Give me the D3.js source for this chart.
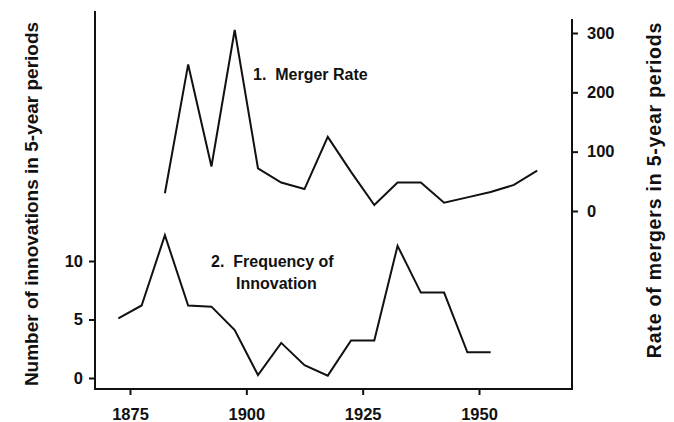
<!DOCTYPE html>
<html>
<head>
<meta charset="utf-8">
<script src="https://cdn.jsdelivr.net/npm/d3@7"></script>
<style>
  body { margin: 0; background: #fff; }
  svg text { font-family: "Liberation Sans", Arial, sans-serif; font-weight: bold; fill: #111; }
</style>
</head>
<body>
<svg id="chart" width="674" height="422"></svg>
<script>
// Data (mid-points of 5-year periods)
const mergerYears = [1882.5, 1887.5, 1892.5, 1897.5, 1902.5, 1907.5, 1912.5, 1917.5, 1922.5,
    1927.5, 1932.5, 1937.5, 1942.5, 1947.5, 1952.5, 1957.5, 1962.5];
const mergerRate = [30, 247, 75, 305, 72, 48, 37, 125, 66, 10, 48, 48, 14, 23, 32, 44, 68];

const innovationYears = [1872.5, 1877.5, 1882.5, 1887.5, 1892.5, 1897.5, 1902.5, 1907.5, 1912.5,
    1917.5, 1922.5, 1927.5, 1932.5, 1937.5, 1942.5, 1947.5, 1952.5];
const innovations = [5.1, 6.2, 12.2, 6.2, 6.1, 4.1, 0.25, 3.0, 1.1, 0.2, 3.2, 3.2, 11.3, 7.3, 7.3, 2.2, 2.2];

const yearTicks = [1875, 1900, 1925, 1950];
const innovationTicks = [0, 5, 10];
const mergerTicks = [0, 100, 200, 300];

// Layout
const frame = { left: 95, right: 572, bottom: 389, leftTop: 11, rightTop: 19 };

const svg = d3.select("#chart");

const xScale = d3.scaleLinear().domain([1875, 1950]).range([130, 479]);
const yLeft = d3.scaleLinear().domain([0, 10]).range([378, 261]);
const yRight = d3.scaleLinear().domain([0, 300]).range([211, 33]);

// Frame lines
svg.append("line")
    .attr("x1", frame.left).attr("x2", frame.left)
    .attr("y1", frame.leftTop).attr("y2", frame.bottom)
    .attr("stroke", "#111").attr("stroke-width", 2);
svg.append("line")
    .attr("x1", frame.right).attr("x2", frame.right)
    .attr("y1", frame.rightTop).attr("y2", frame.bottom)
    .attr("stroke", "#111").attr("stroke-width", 2);
svg.append("line")
    .attr("x1", frame.left - 1).attr("x2", frame.right + 1)
    .attr("y1", frame.bottom).attr("y2", frame.bottom)
    .attr("stroke", "#111").attr("stroke-width", 2);

// Axes (domain paths hidden, frame drawn above)
const xAxis = svg.append("g")
    .attr("transform", `translate(0,${frame.bottom})`)
    .call(d3.axisBottom(xScale).tickValues(yearTicks).tickFormat(d3.format("d")).tickSize(6).tickPadding(13));

const leftAxis = svg.append("g")
    .attr("transform", `translate(${frame.left},0)`)
    .call(d3.axisLeft(yLeft).tickValues(innovationTicks).tickSize(6).tickPadding(6));

const rightAxis = svg.append("g")
    .attr("transform", `translate(${frame.right},0)`)
    .call(d3.axisRight(yRight).tickValues(mergerTicks).tickSize(6).tickPadding(9));

[xAxis, leftAxis, rightAxis].forEach(g => {
    g.select(".domain").remove();
    g.selectAll(".tick line").attr("stroke", "#111").attr("stroke-width", 2);
    g.selectAll(".tick text").style("font-size", "16.5px").attr("fill", "#111");
    g.attr("font-family", null).attr("font-size", null);
});

// Series lines
const mergerLine = d3.line()
    .x((d, i) => xScale(mergerYears[i]))
    .y(d => yRight(d));
svg.append("path")
    .datum(mergerRate)
    .attr("d", mergerLine)
    .attr("fill", "none")
    .attr("stroke", "#111")
    .attr("stroke-width", 2)
    .attr("stroke-linejoin", "miter");

const innovationLine = d3.line()
    .x((d, i) => xScale(innovationYears[i]))
    .y(d => yLeft(d));
svg.append("path")
    .datum(innovations)
    .attr("d", innovationLine)
    .attr("fill", "none")
    .attr("stroke", "#111")
    .attr("stroke-width", 2)
    .attr("stroke-linejoin", "miter");

// Annotations
svg.append("text")
    .attr("x", 253).attr("y", 80)
    .style("font-size", "16px")
    .style("white-space", "pre")
    .text("1.  Merger Rate");

svg.append("text")
    .attr("x", 211).attr("y", 267)
    .style("font-size", "16px")
    .style("white-space", "pre")
    .text("2.  Frequency of");

svg.append("text")
    .attr("x", 236).attr("y", 289)
    .style("font-size", "16px")
    .text("Innovation");

// Axis titles
svg.append("text")
    .attr("transform", "translate(38,204) rotate(-90)")
    .attr("text-anchor", "middle")
    .style("font-size", "19px")
    .text("Number of innovations in 5-year periods");

svg.append("text")
    .attr("transform", "translate(661,190) rotate(-90)")
    .attr("text-anchor", "middle")
    .style("font-size", "19.5px")
    .style("letter-spacing", "0.8px")
    .text("Rate of mergers in 5-year periods");
</script>
</body>
</html>
